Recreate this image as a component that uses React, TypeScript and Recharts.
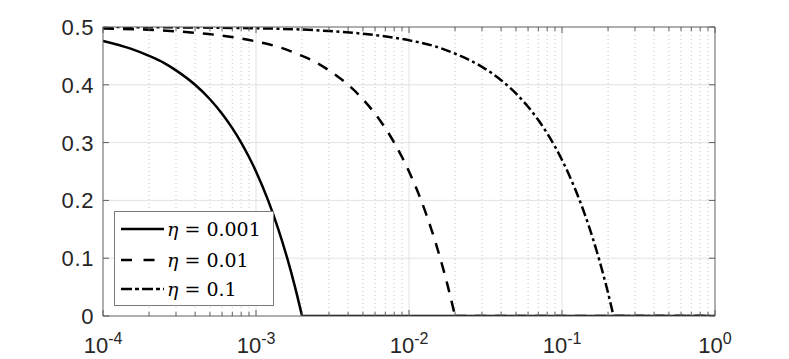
import React from 'react'
import { LineChart, Line, XAxis, YAxis, ReferenceLine } from 'recharts'

// log axis decades and their exponent labels
const decades = [1e-4, 1e-3, 1e-2, 1e-1, 1]
const decadeExp = ['-4', '-3', '-2', '-1', '0']
const minorSteps = [2, 3, 4, 5, 6, 7, 8, 9]
const yTicks = [0, 0.1, 0.2, 0.3, 0.4, 0.5]
const yLabels = ['0', '0.1', '0.2', '0.3', '0.4', '0.5']

// curves (last point = flat tail at zero)
const eta001 = [
  { x: 1e-4, y: 0.476 }, { x: 1.5e-4, y: 0.463 }, { x: 2e-4, y: 0.45 },
  { x: 2.5e-4, y: 0.438 }, { x: 3e-4, y: 0.425 }, { x: 4e-4, y: 0.4 },
  { x: 5e-4, y: 0.375 }, { x: 6e-4, y: 0.35 }, { x: 7e-4, y: 0.325 },
  { x: 8e-4, y: 0.3 }, { x: 9e-4, y: 0.275 }, { x: 1e-3, y: 0.25 },
  { x: 1.2e-3, y: 0.2 }, { x: 1.4e-3, y: 0.15 }, { x: 1.6e-3, y: 0.1 },
  { x: 1.8e-3, y: 0.05 }, { x: 2e-3, y: 0 }, { x: 1, y: 0 },
]
const eta01 = [
  { x: 1e-4, y: 0.4975 }, { x: 3e-4, y: 0.4925 }, { x: 6e-4, y: 0.485 },
  { x: 1e-3, y: 0.475 }, { x: 1.5e-3, y: 0.463 }, { x: 2e-3, y: 0.45 },
  { x: 2.5e-3, y: 0.438 }, { x: 3e-3, y: 0.425 }, { x: 4e-3, y: 0.4 },
  { x: 5e-3, y: 0.375 }, { x: 6e-3, y: 0.35 }, { x: 7e-3, y: 0.325 },
  { x: 8e-3, y: 0.3 }, { x: 9e-3, y: 0.275 }, { x: 1e-2, y: 0.25 },
  { x: 1.2e-2, y: 0.2 }, { x: 1.4e-2, y: 0.15 }, { x: 1.6e-2, y: 0.1 },
  { x: 1.8e-2, y: 0.05 }, { x: 2e-2, y: 0 }, { x: 1, y: 0 },
]
const eta1 = [
  { x: 1e-4, y: 0.5 }, { x: 1e-3, y: 0.4978 }, { x: 3e-3, y: 0.493 },
  { x: 6e-3, y: 0.486 }, { x: 1e-2, y: 0.477 }, { x: 1.5e-2, y: 0.466 },
  { x: 2e-2, y: 0.454 }, { x: 3e-2, y: 0.431 }, { x: 4e-2, y: 0.408 },
  { x: 5e-2, y: 0.385 }, { x: 6e-2, y: 0.362 }, { x: 7e-2, y: 0.339 },
  { x: 8e-2, y: 0.316 }, { x: 9e-2, y: 0.293 }, { x: 0.1, y: 0.27 },
  { x: 0.11, y: 0.247 }, { x: 0.12, y: 0.224 }, { x: 0.13, y: 0.201 },
  { x: 0.14, y: 0.178 }, { x: 0.15, y: 0.155 }, { x: 0.16, y: 0.132 },
  { x: 0.17, y: 0.109 }, { x: 0.18, y: 0.086 }, { x: 0.19, y: 0.063 },
  { x: 0.2, y: 0.04 }, { x: 0.217, y: 0 }, { x: 1, y: 0 },
]

const series = [
  { name: '0.001', data: eta001, dash: undefined, legendDash: undefined },
  { name: '0.01', data: eta01, dash: '11 9', legendDash: '11 11.5' },
  { name: '0.1', data: eta1, dash: '10 3.5 3 3.5', legendDash: '11 3 4 3' },
]

const minorTicks = decades.slice(0, -1).flatMap((d) => minorSteps.map((m) => +(d * m).toPrecision(3)))
const xTicks = [...decades, ...minorTicks].sort((a, b) => a - b)

const AXIS = '#5e5e5e'
const TXT = '#262626'
const SANS = '"Liberation Sans", Arial, Helvetica, sans-serif'

const BottomTick = ({ x, y, payload }) => {
  const i = decades.indexOf(payload.value)
  const major = i >= 0
  return (
    <g>
      <line x1={x} y1={y} x2={x} y2={y - (major ? 6 : 4)} stroke={AXIS} strokeWidth={1} />
      {major && (
        <text x={x} y={y + 37} textAnchor="middle" fontFamily={SANS} fontSize={22} fill={TXT}>
          <tspan>10</tspan>
          <tspan dy={-9} fontSize={16}>{decadeExp[i]}</tspan>
        </text>
      )}
    </g>
  )
}

const TopTick = ({ x, y, payload }) => {
  const major = decades.includes(payload.value)
  return <line x1={x} y1={y} x2={x} y2={y + (major ? 6 : 4)} stroke={AXIS} strokeWidth={1} />
}

const LeftTick = ({ x, y, payload }) => {
  const i = yTicks.indexOf(payload.value)
  return (
    <g>
      <line x1={x} y1={y} x2={x + 6} y2={y} stroke={AXIS} strokeWidth={1} />
      <text x={x - 9} y={y + 8} textAnchor="end" fontFamily={SANS} fontSize={22} letterSpacing={0.6} fill={TXT}>
        {yLabels[i]}
      </text>
    </g>
  )
}

const RightTick = ({ x, y }) => <line x1={x} y1={y} x2={x - 6} y2={y} stroke={AXIS} strokeWidth={1} />

function LegendBox() {
  const rows = [17, 48, 77]
  return (
    <div
      style={{
        position: 'absolute', left: 114, top: 211, width: 160, height: 95, boxSizing: 'border-box',
        border: '1px solid #7a7a7a', background: '#fff',
      }}
    >
      {series.map((s, i) => (
        <div key={s.name} style={{ position: 'absolute', left: 0, top: rows[i] - 15, height: 30, display: 'flex', alignItems: 'center' }}>
          <svg width={50} height={30} style={{ display: 'block' }}>
            <line x1={6} y1={15} x2={49} y2={15} stroke="#000" strokeWidth={2.5} strokeDasharray={s.legendDash} />
          </svg>
          <span style={{ fontFamily: '"DejaVu Serif", serif', fontSize: 19, color: '#000', marginLeft: 2, whiteSpace: 'pre' }}>
            <i>η</i> = {s.name}
          </span>
        </div>
      ))}
    </div>
  )
}

export default function App() {
  return (
    <div style={{ position: 'absolute', left: 0, top: 0, width: 789, height: 359, background: '#fff' }}>
      <LineChart width={789} height={359} margin={{ top: 26, right: 73, bottom: 0, left: 0 }}>
        <XAxis
          dataKey="x" type="number" scale="log" domain={[1e-4, 1]} allowDataOverflow
          ticks={xTicks} interval={0} height={43} tickSize={0} tickMargin={0}
          tick={BottomTick} tickLine={false} axisLine={{ stroke: AXIS }}
        />
        <XAxis
          xAxisId="top" orientation="top" dataKey="x" type="number" scale="log" domain={[1e-4, 1]} allowDataOverflow
          ticks={xTicks} interval={0} height={1} tickSize={0} tickMargin={0}
          tick={TopTick} tickLine={false} axisLine={{ stroke: AXIS }}
        />
        <YAxis
          type="number" domain={[0, 0.5]} allowDataOverflow ticks={yTicks} interval={0} width={103}
          tickSize={0} tickMargin={0} tick={LeftTick} tickLine={false} axisLine={{ stroke: AXIS }}
        />
        <YAxis
          yAxisId="right" orientation="right" type="number" domain={[0, 0.5]} allowDataOverflow ticks={yTicks}
          interval={0} width={1} tickSize={0} tickMargin={0} tick={RightTick} tickLine={false} axisLine={{ stroke: AXIS }}
        />
        {minorTicks.map((v) => (
          <ReferenceLine key={'m' + v} x={v} stroke="#c4c4c4" strokeDasharray="1 3" />
        ))}
        {decades.slice(1, -1).map((v) => (
          <ReferenceLine key={'d' + v} x={v} stroke="#e2e2e2" />
        ))}
        {yTicks.slice(1, -1).map((v) => (
          <ReferenceLine key={'h' + v} y={v} stroke="#e2e2e2" />
        ))}
        {series.map((s) => (
          <Line
            key={'tail' + s.name} data={s.data.slice(-2)} dataKey="y" type="linear" stroke="#000" strokeWidth={2.5}
            strokeDasharray={s.dash} dot={false} activeDot={false} isAnimationActive={false}
          />
        ))}
        {series.map((s) => (
          <Line
            key={s.name} data={s.data.slice(0, -1)} dataKey="y" type="monotoneX" stroke="#000" strokeWidth={2.5}
            strokeDasharray={s.dash} dot={false} activeDot={false} isAnimationActive={false} strokeLinejoin="round"
          />
        ))}
      </LineChart>
      <LegendBox />
    </div>
  )
}
